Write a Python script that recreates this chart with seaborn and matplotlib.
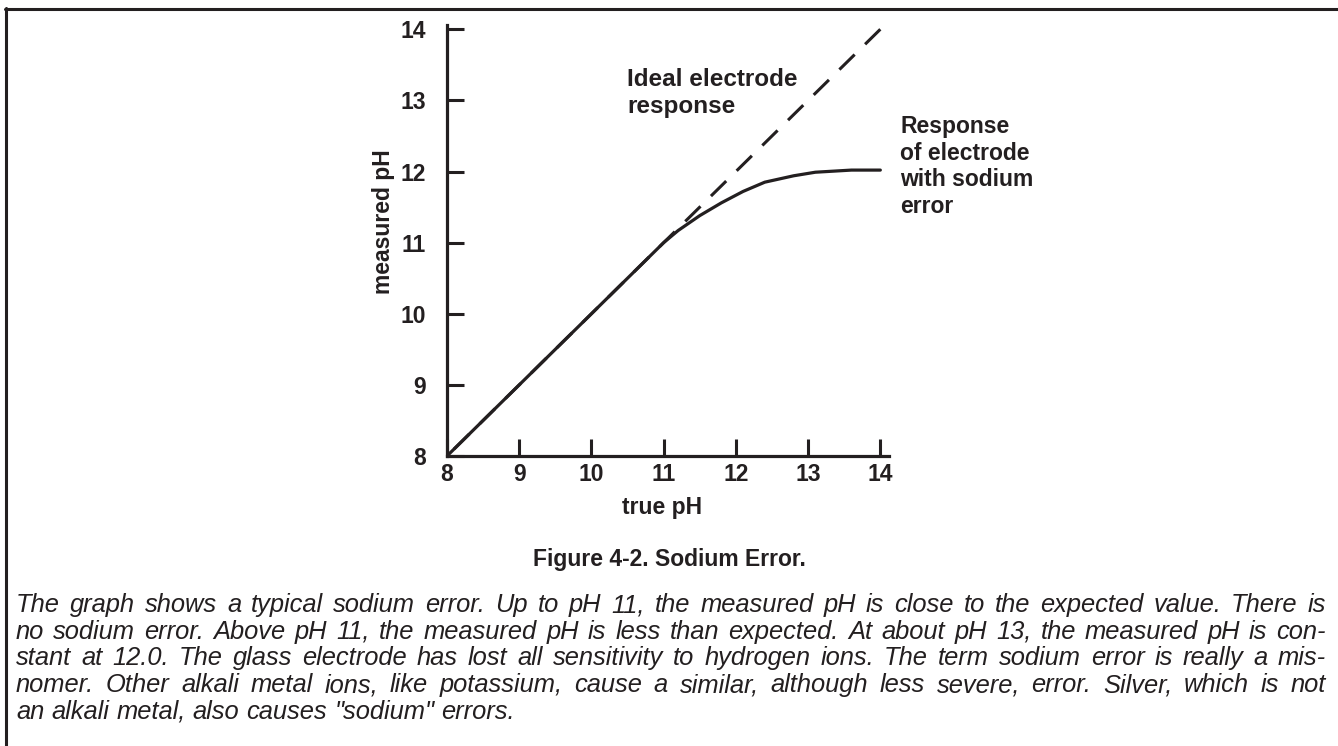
import matplotlib
matplotlib.use("Agg")
import matplotlib.pyplot as plt
import seaborn as sns
from matplotlib import font_manager
from matplotlib.lines import Line2D

# data
ideal_true_ph = [14.0, 8.0]
ideal_measured_ph = [14.0, 8.0]
sodium_true_ph = [8.0, 11.0, 11.2, 11.5, 11.8, 12.1, 12.4, 12.8, 13.1, 13.6, 14.0]
sodium_measured_ph = [8.0, 11.0, 11.17, 11.38, 11.56, 11.72, 11.85, 11.94, 11.99, 12.02, 12.02]
x_ticks = [8, 9, 10, 11, 12, 13, 14]
y_ticks = [8, 9, 10, 11, 12, 13, 14]

ideal_label = ["Ideal electrode", "response"]
sodium_label = ["Response", "of electrode", "with sodium", "error"]
caption = "Figure 4-2. Sodium Error."
paragraph = [
    "The graph shows a typical sodium error. Up to pH 11, the measured pH is close to the expected value. There is",
    "no sodium error. Above pH 11, the measured pH is less than expected. At about pH 13, the measured pH is con-",
    "stant at 12.0. The glass electrode has lost all sensitivity to hydrogen ions. The term sodium error is really a mis-",
    "nomer. Other alkali metal ions, like potassium, cause a similar, although less severe, error. Silver, which is not",
    "an alkali metal, also causes \"sodium\" errors.",
]

INK = "#231f20"
W, H = 1338, 746

sns.set_theme(style="ticks")
plt.rcParams["font.family"] = ["Liberation Sans", "DejaVu Sans"]
plt.rcParams["text.color"] = INK

names = {f.name for f in font_manager.fontManager.ttflist}
para_family = "Liberation Sans Narrow" if "Liberation Sans Narrow" in names else "Liberation Sans"


def px(x, y):
    return x / W, 1 - y / H


fig = plt.figure(figsize=(W / 100, H / 100), dpi=100)
ax = fig.add_axes([447 / W, 1 - 456 / H, (889 - 447) / W, (456 - 25) / H])

sns.lineplot(x=ideal_true_ph, y=ideal_measured_ph, sort=False, color=INK,
             linewidth=2.2, ax=ax)
ax.lines[-1].set_dashes((7, 4.8))
sns.lineplot(x=sodium_true_ph, y=sodium_measured_ph, sort=False, color=INK,
             linewidth=2.3, ax=ax)

ax.set_xlim(8, 14.12)
ax.set_ylim(8, 14.06)
ax.set_xticks(x_ticks)
ax.set_yticks(y_ticks)
ax.set_xticklabels([str(t) for t in x_ticks], fontsize=16.5, fontweight="bold", color=INK)
ax.set_yticklabels([str(t) for t in y_ticks], fontsize=16.5, fontweight="bold", color=INK)
ax.tick_params(axis="both", direction="in", length=12, width=2.2, color=INK)
ax.tick_params(axis="x", pad=5)
ax.tick_params(axis="y", pad=15)
for side in ["top", "right"]:
    ax.spines[side].set_visible(False)
for side in ["left", "bottom"]:
    ax.spines[side].set_linewidth(2.3)
    ax.spines[side].set_color(INK)
    ax.spines[side].set_capstyle("projecting")

ax.set_xlabel("true pH", fontsize=16.5, fontweight="bold", color=INK)
ax.xaxis.set_label_coords(0.486, -0.092)
ax.set_ylabel("measured pH", fontsize=16.5, fontweight="bold", color=INK, va="center")
ax.yaxis.set_label_coords(-0.143, 0.543)

bold = dict(fontsize=16.5, fontweight="bold", color=INK, va="baseline")
for i, s in enumerate(ideal_label):
    fig.text(*px(627, 86 + 27 * i), s, ha="left", **dict(bold, fontsize=17.5))
for i, s in enumerate(sodium_label):
    fig.text(*px(900, 133 + 26.7 * i), s, ha="left", **bold)
fig.text(*px(669, 566), caption, ha="center", **bold)

# border (only top and left edges are visible in the crop)
fig.add_artist(Line2D([5 / W, 1], [1 - 9 / H] * 2, color=INK, linewidth=2.2))
fig.add_artist(Line2D([6 / W] * 2, [1 - 8 / H, 0], color=INK, linewidth=2.2))

# justified italic paragraph, font size fitted so the widest line is nearly full
fig.canvas.draw()
renderer = fig.canvas.get_renderer()
left, right = 16, 1326


def width_of(t):
    return t.get_window_extent(renderer).width


style = dict(fontsize=20, fontstyle="italic", family=para_family, color=INK, va="baseline")
probe = fig.text(0, 0, paragraph[0], **style)
widest = max(width_of(probe.set_text(s) or probe) for s in paragraph[:-1])
probe.remove()
style["fontsize"] = 20 * 0.965 * (right - left) / widest

probe_a = fig.text(0, 0, "a", **style)
probe_ab = fig.text(0, 0, "a a", **style)
space = width_of(probe_ab) - 2 * width_of(probe_a)
probe_a.remove()
probe_ab.remove()

for i, line in enumerate(paragraph):
    base = 612 + 26.7 * i
    words = line.split(" ")
    items = [fig.text(0, 0, w, **style) for w in words]
    widths = [width_of(t) for t in items]
    if i < len(paragraph) - 1 and len(words) > 1:
        gap = (right - left - sum(widths)) / (len(words) - 1)
    else:
        gap = space
    x = left
    for t, w in zip(items, widths):
        t.set_position(px(x, base))
        x += w + gap

fig.savefig("out.png", dpi=100)
